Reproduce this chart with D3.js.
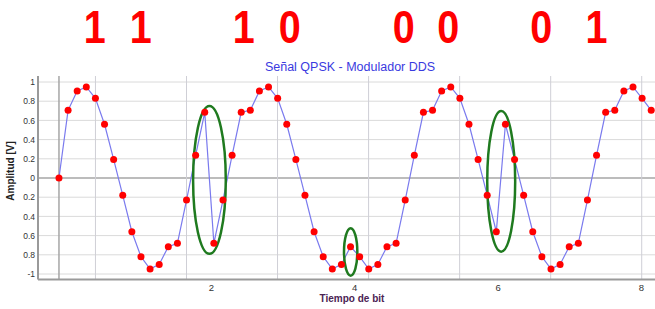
<!DOCTYPE html>
<html lang="es">
	<head>
		<meta charset="utf-8">
		<title>Señal QPSK - Modulador DDS</title>
		<script type="text/javascript" src="https://cdn.jsdelivr.net/npm/d3@7"></script>
		<style type="text/css">
			body { margin: 0; background: #fff; }
			svg { display: block; }
		</style>
	</head>
	<body>
		<script type="text/javascript">

// Tamaño
var w = 655;
var h = 309;

// Bits transmitidos (pares = símbolos QPSK)
var bits = ["1", "1", "1", "0", "0", "0", "0", "1"];
var bitsT = [0.38, 1.02, 2.46, 3.10, 4.69, 5.31, 6.61, 7.38];	// centro de cada cifra, en tiempo de bit

// Muestras del DDS (amplitud en V)
var muestras = [
	0, 0.705, 0.906, 0.948, 0.83, 0.56, 0.194, -0.18, -0.56, -0.82, -0.948,
	-0.90, -0.715, -0.68, -0.23, 0.236, 0.684, -0.68, -0.23, 0.236, 0.684, 0.705,
	0.906, 0.948, 0.83, 0.56, 0.194, -0.18, -0.56, -0.82, -0.948, -0.90, -0.715,
	-0.82, -0.948, -0.90, -0.715, -0.68, -0.23, 0.236, 0.684, 0.705, 0.906, 0.948,
	0.83, 0.56, 0.194, -0.18, -0.56, 0.56, 0.194, -0.18, -0.56, -0.82, -0.948,
	-0.90, -0.715, -0.68, -0.23, 0.236, 0.684, 0.705, 0.906, 0.948, 0.83, 0.705
];
var t0 = -0.119;	// instante de la primera muestra
var Ts = 0.1271;	// periodo de muestreo (en tiempo de bit)

// Ejes
var xTicks = [2, 4, 6, 8];
var yTicks = [1, 0.8, 0.6, 0.4, 0.2, 0, -0.2, -0.4, -0.6, -0.8, -1];
var yLabels = ["1", "0.8", "0.6", "0.4", "0.2", "0", "0.2", "0.4", "0.6", "0.8", "-1"];
var xGrid = [0.39, 1.66, 2.93, 4.20, 5.47, 6.74, 8.01];

// Cambios de fase marcados con elipses verdes: centro y semiejes en unidades de datos
var resaltados = [
	{ t: 1.98, v: -0.02, dt: 0.228, dv: 0.77 },
	{ t: 3.95, v: -0.77, dt: 0.093, dv: 0.247 },
	{ t: 6.05, v: -0.035, dt: 0.195, dv: 0.732 }
];

// (ojo: "top" es window.top, no se puede usar como variable global)
var plotLeft = 38, plotRight = 655, plotTop = 76, plotBottom = 279.5;

var xScale = d3.scaleLinear()
		.domain([0, 8])
		.range([67.5, 641]);

var yScale = d3.scaleLinear()
		.domain([-1, 1])
		.range([274, 82]);

var svg = d3.select("body")
		.append("svg")
		.attr("width", w)
		.attr("height", h);

// Cuadrícula horizontal
svg.selectAll("line.hgrid")
   .data(yTicks)
   .enter()
   .append("line")
   .attr("class", "hgrid")
   .attr("x1", plotLeft)
   .attr("x2", plotRight)
   .attr("y1", function(d) { return yScale(d); })
   .attr("y2", function(d) { return yScale(d); })
   .attr("stroke", function(d) { return d === 0 ? "#a6a6a6" : "#dadada"; })
   .attr("stroke-width", function(d) { return d === 0 ? 1.5 : 1; });

// Cuadrícula vertical
svg.selectAll("line.vgrid")
   .data(xGrid)
   .enter()
   .append("line")
   .attr("class", "vgrid")
   .attr("x1", function(d) { return xScale(d); })
   .attr("x2", function(d) { return xScale(d); })
   .attr("y1", plotTop)
   .attr("y2", plotBottom)
   .attr("stroke", "#cfcfd6")
   .attr("stroke-width", 1);

// Línea vertical en la primera muestra
svg.append("line")
   .attr("x1", xScale(t0))
   .attr("x2", xScale(t0))
   .attr("y1", plotTop)
   .attr("y2", plotBottom)
   .attr("stroke", "#a6a6a6")
   .attr("stroke-width", 1.5);

// Ejes
var yAxis = d3.axisLeft(yScale)
		.tickValues(yTicks)
		.tickFormat(function(d, i) { return yLabels[i]; })
		.tickSize(0)
		.tickPadding(3);

svg.append("g")
   .attr("transform", "translate(" + plotLeft + ",0)")
   .call(yAxis)
   .call(function(g) { g.select(".domain").remove(); })
   .selectAll("text")
   .attr("font-family", "Liberation Sans, Arial, sans-serif")
   .attr("font-size", "8.5px")
   .attr("fill", "#333");

var xAxis = d3.axisBottom(xScale)
		.tickValues(xTicks)
		.tickSize(0)
		.tickPadding(5);

svg.append("g")
   .attr("transform", "translate(0," + plotBottom + ")")
   .call(xAxis)
   .call(function(g) { g.select(".domain").remove(); })
   .selectAll("text")
   .attr("font-family", "Liberation Sans, Arial, sans-serif")
   .attr("font-size", "9.5px")
   .attr("fill", "#333");

svg.append("line")
   .attr("x1", plotLeft).attr("x2", plotLeft)
   .attr("y1", plotTop).attr("y2", plotBottom)
   .attr("stroke", "#9a9a9a")
   .attr("stroke-width", 2);

svg.append("line")
   .attr("x1", plotLeft).attr("x2", plotRight)
   .attr("y1", plotBottom).attr("y2", plotBottom)
   .attr("stroke", "#9a9a9a")
   .attr("stroke-width", 2);

// Señal
var line = d3.line()
		.x(function(d, i) { return xScale(t0 + i * Ts); })
		.y(function(d) { return yScale(d); });

svg.append("path")
   .datum(muestras)
   .attr("d", line)
   .attr("fill", "none")
   .attr("stroke", "#7a7aee")
   .attr("stroke-width", 1.2);

// Elipses
svg.selectAll("ellipse")
   .data(resaltados)
   .enter()
   .append("ellipse")
   .attr("cx", function(d) { return xScale(d.t); })
   .attr("cy", function(d) { return yScale(d.v); })
   .attr("rx", function(d) { return xScale(d.dt) - xScale(0); })
   .attr("ry", function(d) { return yScale(0) - yScale(d.dv); })
   .attr("fill", "none")
   .attr("stroke", "#1f7a1f")
   .attr("stroke-width", 2.5);

// Muestras
svg.selectAll("circle")
   .data(muestras)
   .enter()
   .append("circle")
   .attr("cx", function(d, i) { return xScale(t0 + i * Ts); })
   .attr("cy", function(d) { return yScale(d); })
   .attr("r", 3.5)
   .attr("fill", "#ff0000");

// Títulos
svg.append("text")
   .text("Señal QPSK - Modulador DDS")
   .attr("x", 350)
   .attr("y", 71)
   .attr("text-anchor", "middle")
   .attr("font-family", "Liberation Sans, Arial, sans-serif")
   .attr("font-size", "12.5px")
   .attr("fill", "#3a3ae0");

svg.append("text")
   .text("Tiempo de bit")
   .attr("x", 352)
   .attr("y", 302)
   .attr("text-anchor", "middle")
   .attr("font-family", "Liberation Sans, Arial, sans-serif")
   .attr("font-weight", "bold")
   .attr("font-size", "10px")
   .attr("fill", "#4b2454");

svg.append("text")
   .text("Amplitud [V]")
   .attr("transform", "translate(14,171) rotate(-90)")
   .attr("text-anchor", "middle")
   .attr("font-family", "Liberation Sans, Arial, sans-serif")
   .attr("font-weight", "bold")
   .attr("font-size", "10px")
   .attr("fill", "#222");

// Cifras de los bits (algo estrechas, como en el original)
svg.selectAll("text.bit")
   .data(bits)
   .enter()
   .append("text")
   .attr("class", "bit")
   .text(function(d) { return d; })
   .attr("transform", function(d, i) {
		return "translate(" + xScale(bitsT[i]) + ",43) scale(0.86,1)";
   })
   .attr("text-anchor", "middle")
   .attr("font-family", "Liberation Sans, Arial, sans-serif")
   .attr("font-weight", "bold")
   .attr("font-size", "46px")
   .attr("fill", "#ff0000");

		</script>
	</body>
</html>
